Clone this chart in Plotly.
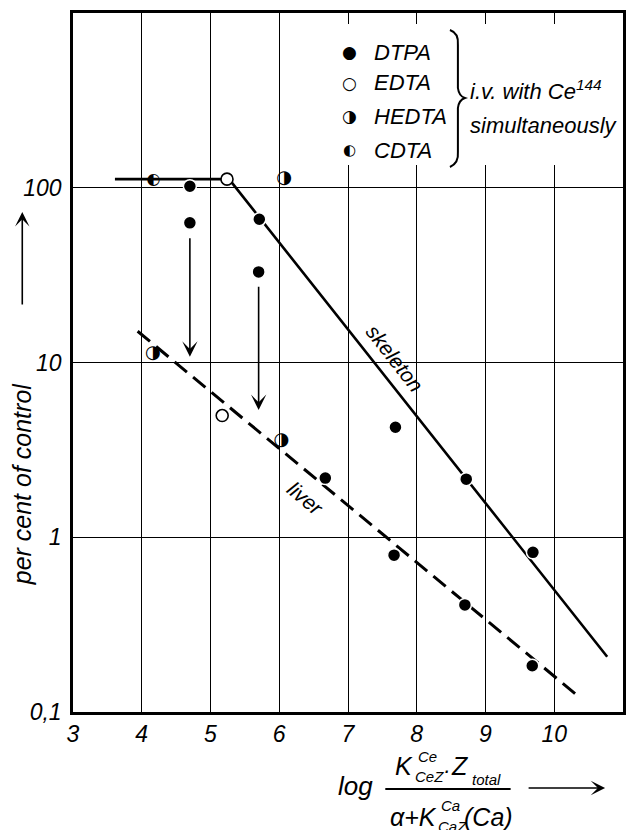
import math
import plotly.graph_objects as go

# --- measured values -------------------------------------------------------
dtpa_x = [4.70, 4.70, 5.71, 5.70, 6.67, 7.69, 7.67, 8.72, 8.70, 9.69, 9.68]
dtpa_y = [102, 63, 66, 33, 2.18, 4.26, 0.79, 2.15, 0.41, 0.82, 0.184]

edta_x = [5.24, 5.17]
edta_y = [112, 4.97]

hedta_x = [6.07, 4.16, 6.03]
hedta_y = [113, 11.3, 3.6]

cdta_x = [4.17]
cdta_y = [111]

# fitted curves
skeleton_x = [3.61, 5.27, 10.77]
skeleton_y = [112, 112, 0.207]
liver_x = [3.94, 10.34]
liver_y = [15.1, 0.124]

# downward shifts (x, from, to)
shift_x = [4.70, 5.70]
shift_from = [52.5, 27.7]
shift_to = [10.8, 5.35]

x_ticks = [3, 4, 5, 6, 7, 8, 9, 10, 11]
y_ticks = [0.1, 1, 10, 100]
y_ticktext = ["0,1", "1", "10", "100"]

# --- styling ---------------------------------------------------------------
FONT = "Liberation Sans, Arial, sans-serif"
SYM_FONT = "DejaVu Sans, sans-serif"
W, H = 631, 830
L, R, T, B = 73, 626, 13, 712


def px(xp):
    """figure pixel column -> paper x"""
    return (xp - L) / (R - L)


def py(yp):
    """figure pixel row -> paper y"""
    return (B - yp) / (B - T)


fig = go.Figure()

fig.add_trace(go.Scatter(x=skeleton_x, y=skeleton_y, mode="lines",
                         line=dict(color="black", width=2.6), hoverinfo="skip"))
fig.add_trace(go.Scatter(x=liver_x, y=liver_y, mode="lines",
                         line=dict(color="black", width=3, dash="16px,8px"),
                         hoverinfo="skip"))

fig.add_trace(go.Scatter(x=dtpa_x, y=dtpa_y, mode="markers", name="DTPA",
                         marker=dict(symbol="circle", size=13, color="black",
                                     line=dict(color="white", width=1.5))))
fig.add_trace(go.Scatter(x=edta_x, y=edta_y, mode="markers", name="EDTA",
                         marker=dict(symbol="circle", size=12, color="white",
                                     line=dict(color="black", width=1.6))))
fig.add_trace(go.Scatter(x=hedta_x, y=hedta_y, mode="text", name="HEDTA",
                         text=["\u25d1"] * len(hedta_x), textposition="middle center",
                         textfont=dict(family=SYM_FONT, size=18, color="black")))
fig.add_trace(go.Scatter(x=cdta_x, y=cdta_y, mode="text", name="CDTA",
                         text=["\u25d0"] * len(cdta_x), textposition="middle center",
                         textfont=dict(family=SYM_FONT, size=16, color="black")))

annotations = []


def add_text(x, y, s, size, xanchor="center", family=FONT, style="italic", **kw):
    annotations.append(dict(x=px(x), y=py(y), xref="paper", yref="paper",
                            text=s, showarrow=False, xanchor=xanchor, yanchor="middle",
                            font=dict(family=family, size=size, color="black",
                                      style=style), **kw))


# downward arrows
for xa, y0, y1 in zip(shift_x, shift_from, shift_to):
    annotations.append(dict(x=xa, y=math.log10(y1), ax=xa, ay=math.log10(y0),
                            xref="x", yref="y", axref="x", ayref="y",
                            text="", showarrow=True, arrowhead=3, arrowsize=1.6,
                            arrowwidth=1.6, arrowcolor="black"))

# curve labels
add_text(397, 358, "skeleton", 21, textangle=52)
add_text(307, 498, "liver", 21, textangle=40)

# key
key_rows = [("\u25cf", "DTPA", 52, 17), ("\u25cb", "EDTA", 83, 17),
            ("\u25d1", "HEDTA", 116, 17), ("\u25d0", "CDTA", 150, 15)]
for sym, name, yp, ss in key_rows:
    add_text(351, yp, sym, ss, family=SYM_FONT, style="normal")
    add_text(374, yp, name, 22, xanchor="left")
add_text(470, 90, "i.v. with Ce<sup>144</sup>", 22, xanchor="left")
add_text(470, 125, "simultaneously", 22, xanchor="left")

# y axis title with its arrow
add_text(22, 484, "per cent of control", 25, textangle=-90)
annotations.append(dict(x=px(22), y=py(212), xref="paper", yref="paper",
                        text="", showarrow=True, ax=0, ay=94, arrowhead=3,
                        arrowsize=1.5, arrowwidth=1.6, arrowcolor="black"))

# x axis title: log of a fraction
add_text(357, 786, "log", 26)
add_text(406, 766, "K", 25)
add_text(429, 756, "Ce", 15)
add_text(431, 776, "CeZ", 15)
add_text(449, 770, "\u00b7", 22)
add_text(462, 766, "Z", 25)
add_text(489, 779, "total", 15)
add_text(415, 817, "\u03b1+K", 25)
add_text(453, 805, "Ca", 15)
add_text(455, 826, "CaZ", 15)
add_text(491, 817, "(Ca)", 25)
annotations.append(dict(x=px(608), y=py(788), xref="paper", yref="paper",
                        text="", showarrow=True, ax=-78, ay=0, arrowhead=3,
                        arrowsize=1.5, arrowwidth=1.6, arrowcolor="black"))

# brace of the key
bx = [(452, 30), (461, 33), (460, 45), (460, 88), (461, 96), (467, 98),
      (461, 100), (460, 108), (460, 152), (461, 163), (452, 167)]
path = "M {} {}".format(px(bx[0][0]), py(bx[0][1]))
path += " Q {} {} {} {}".format(px(bx[1][0]), py(bx[1][1]), px(bx[2][0]), py(bx[2][1]))
path += " L {} {}".format(px(bx[3][0]), py(bx[3][1]))
path += " Q {} {} {} {}".format(px(bx[4][0]), py(bx[4][1]), px(bx[5][0]), py(bx[5][1]))
path += " Q {} {} {} {}".format(px(bx[6][0]), py(bx[6][1]), px(bx[7][0]), py(bx[7][1]))
path += " L {} {}".format(px(bx[8][0]), py(bx[8][1]))
path += " Q {} {} {} {}".format(px(bx[9][0]), py(bx[9][1]), px(bx[10][0]), py(bx[10][1]))

shapes = [
    # white panel behind the key
    dict(type="rect", xref="paper", yref="paper", x0=px(340), x1=px(624),
         y0=py(165), y1=py(24), fillcolor="white", line=dict(width=0), layer="above"),
    dict(type="path", xref="paper", yref="paper", path=path,
         line=dict(color="black", width=2), layer="above"),
    # fraction bar
    dict(type="line", xref="paper", yref="paper", x0=px(387), x1=px(513),
         y0=py(789), y1=py(789), line=dict(color="black", width=2)),
]

fig.update_layout(
    width=W, height=H, autosize=False,
    margin=dict(l=L, r=W - R, t=T, b=H - B),
    paper_bgcolor="white", plot_bgcolor="white",
    showlegend=False,
    annotations=annotations, shapes=shapes,
    xaxis=dict(range=[3, 11], tickvals=x_ticks, showgrid=True, gridcolor="black",
               gridwidth=1, showline=True, linecolor="black", linewidth=2.5, mirror=True,
               zeroline=False, ticks="", ticklabelstandoff=0,
               tickfont=dict(family=FONT, size=23, color="black", style="italic")),
    yaxis=dict(type="log", range=[-1, 3], tickvals=y_ticks, ticktext=y_ticktext,
               showgrid=True, gridcolor="black", gridwidth=1, showline=True,
               linecolor="black", linewidth=2.5, mirror=True, zeroline=False, ticks="",
               ticklabelstandoff=4,
               tickfont=dict(family=FONT, size=23, color="black", style="italic")),
)

fig.write_html("out.html")
